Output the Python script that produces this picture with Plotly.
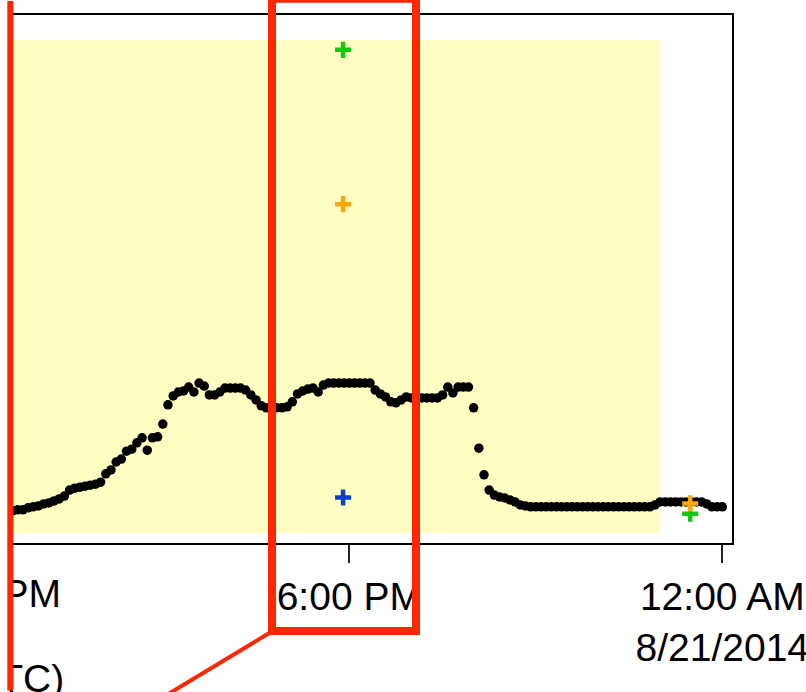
import pandas as pd
import plotly.graph_objects as go

# Sensor readings at 5-minute steps, 20 Aug 2014 12:20 PM to 21 Aug 2014 12:00 AM
reading_start = "2014-08-20 12:20"
reading_values = [
    4.5, 4.5, 4.5, 4.5, 4.7, 4.7, 5.1, 5.3, 5.5, 5.9,
    6.1, 6.5, 6.9, 7.5, 8.7, 9.1, 9.3, 9.5, 9.7, 9.9,
    10.3, 12.0, 12.8, 14.4, 15.0, 16.6, 17.0, 18.3, 19.3, 16.8,
    19.3, 19.5, 22.1, 26.0, 27.8, 28.6, 28.8, 29.6, 28.6, 30.4,
    29.8, 28.0, 28.0, 28.6, 29.4, 29.4, 29.4, 29.4, 29.0, 28.0,
    27.0, 25.8, 25.4, 25.4, 25.4, 25.4, 25.6, 26.6, 28.2, 28.8,
    29.2, 29.4, 28.6, 30.0, 30.4, 30.4, 30.4, 30.4, 30.4, 30.4,
    30.4, 30.4, 30.4, 29.0, 28.2, 27.6, 26.6, 26.4, 27.0, 27.6,
    27.4, 27.4, 27.4, 27.4, 27.4, 27.4, 28.0, 29.6, 28.4, 29.6,
    29.6, 29.6, 25.4, 17.2, 11.8, 8.7, 7.7, 7.3, 7.1, 6.7,
    6.3, 5.7, 5.5, 5.3, 5.3, 5.3, 5.3, 5.3, 5.3, 5.3,
    5.3, 5.3, 5.3, 5.3, 5.3, 5.3, 5.3, 5.3, 5.3, 5.3,
    5.3, 5.3, 5.3, 5.3, 5.3, 5.3, 5.3, 5.7, 6.3, 6.3,
    6.3, 6.3, 6.3, 6.3, 6.3, 6.3, 6.3, 5.9, 5.3, 5.3,
    5.3,
]
reading_times = pd.date_range(reading_start, periods=len(reading_values), freq="5min")

# Manual check points
green_times = ["2014-08-20 17:54", "2014-08-20 23:29"]
green_values = [98.0, 3.9]
orange_times = ["2014-08-20 17:54", "2014-08-20 23:29"]
orange_values = [66.7, 6.0]
blue_times = ["2014-08-20 17:54"]
blue_values = [7.2]

# Shaded window
window_start = "2014-08-20 06:00"
window_end = "2014-08-20 23:00"
window_low = 0
window_high = 100

# Axes
x_range = ["2014-08-20 12:30:36", "2014-08-21 00:09:21"]
y_range = [-2.03, 105.07]
tick_times = ["2014-08-20 12:00", "2014-08-20 18:00", "2014-08-21 00:00"]
tick_labels = ["12:00 PM", "6:00 PM", "12:00 AM<br>8/21/2014"]
x_title = "Time (UTC)"

# Page geometry (pixels)
W, H = 806, 692
L, R, T, B = 8, 732, 15, 543
FONT = "Arial, Liberation Sans, sans-serif"
FS = 39
RED = "#ff2600"


def px_x(px):
    return (px - L) / (R - L)


def px_y(py):
    return (B - py) / (B - T)


fig = go.Figure()

fig.add_trace(go.Scatter(
    x=reading_times, y=reading_values, mode="markers",
    marker=dict(size=9.5, color="black", line=dict(width=0)),
    showlegend=False, hoverinfo="skip",
))

for times, vals, col in [
    (green_times, green_values, "#13c80f"),
    (orange_times, orange_values, "#f8a80c"),
    (blue_times, blue_values, "#0c3fd0"),
]:
    fig.add_trace(go.Scatter(
        x=times, y=vals, mode="markers",
        marker=dict(symbol="cross-thin", size=11.5, line=dict(width=4.5, color=col)),
        showlegend=False, hoverinfo="skip",
    ))

fig.add_shape(type="rect", xref="x", yref="y", layer="below",
              x0=window_start, x1=window_end, y0=window_low, y1=window_high,
              fillcolor="#fffdc2", line=dict(width=0))

# highlight frame around the 6:00 PM tick and its leader line
fig.add_shape(type="rect", xref="paper", yref="paper", layer="above",
              x0=px_x(272), x1=px_x(416), y0=px_y(631), y1=px_y(-1.3),
              line=dict(color=RED, width=8), fillcolor="rgba(0,0,0,0)")
fig.add_shape(type="line", xref="paper", yref="paper", layer="above",
              x0=px_x(271), y0=px_y(632), x1=px_x(160), y1=px_y(699),
              line=dict(color=RED, width=4))

# index of the off-range first tick
first_tick = 0
annotations = [
    dict(text=tick_labels[first_tick], xref="paper", yref="paper", x=0, y=0,
         xanchor="right", yanchor="top", xshift=55, yshift=-27,
         showarrow=False, font=dict(family=FONT, size=FS, color="black")),
    dict(text=x_title, xref="paper", yref="paper", x=0, y=0,
         xanchor="right", yanchor="top", xshift=58, yshift=-112,
         showarrow=False, font=dict(family=FONT, size=FS, color="black")),
    # blank strip on the left edge
    dict(text=".", xref="paper", yref="paper", x=px_x(-1), y=px_y(-2),
         xanchor="left", yanchor="top", width=9, height=H + 4, borderpad=0,
         bgcolor="white", font=dict(size=4, color="white"), showarrow=False),
    # red vertical marker on the left edge
    dict(text="", xref="paper", yref="paper", x=px_x(10.3), y=px_y(0),
         showarrow=True, arrowhead=0, arrowwidth=6, arrowcolor=RED,
         ax=0, ay=H, standoff=0, startstandoff=0),
]

fig.update_layout(
    template="none",
    width=W, height=H,
    margin=dict(l=L, r=W - R, t=T, b=H - B, pad=0),
    paper_bgcolor="white", plot_bgcolor="white",
    showlegend=False,
    annotations=annotations,
    xaxis=dict(
        type="date", range=x_range,
        tickmode="array", tickvals=tick_times[1:], ticktext=tick_labels[1:],
        ticks="outside", ticklen=18, tickwidth=1.5, tickcolor="#222",
        ticklabeloverflow="allow",
        tickfont=dict(family=FONT, size=FS, color="black"),
        showline=True, linecolor="black", linewidth=2, mirror=True,
        showgrid=False, zeroline=False, automargin=False,
    ),
    yaxis=dict(
        range=y_range, showticklabels=False, ticks="",
        showline=True, linecolor="black", linewidth=2, mirror=True,
        showgrid=False, zeroline=False, automargin=False,
    ),
)

fig.write_html("out.html")
